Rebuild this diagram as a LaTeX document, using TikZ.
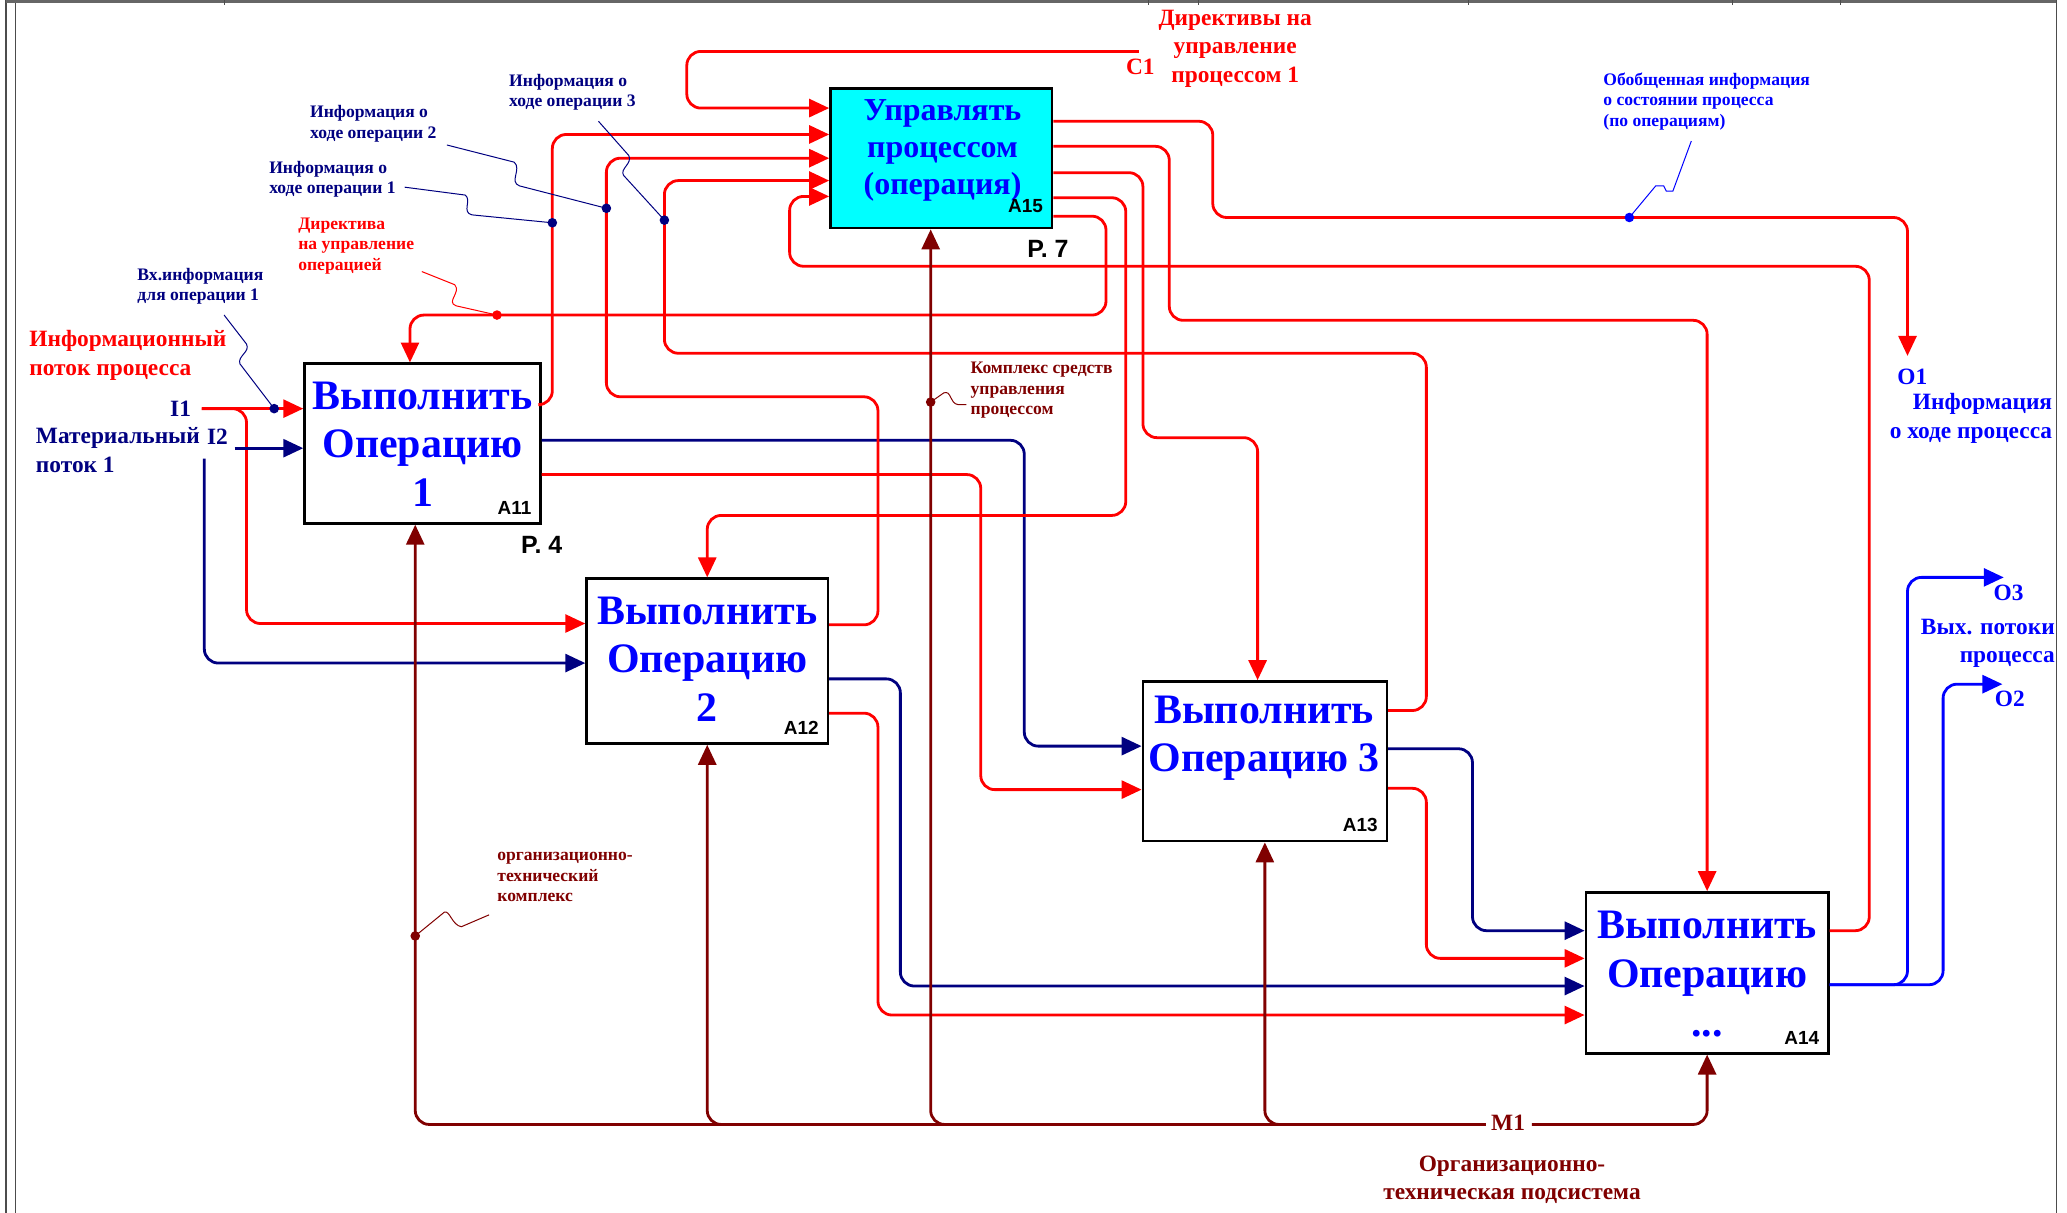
\documentclass[tikz,border=0pt]{standalone}
\usepackage{fontspec}
\setmainfont{Liberation Serif}
\setsansfont{Liberation Sans}
\usetikzlibrary{arrows.meta}

\definecolor{flowred}{RGB}{255,0,0}
\definecolor{flownavy}{RGB}{0,0,128}
\definecolor{flowblue}{RGB}{0,0,255}
\definecolor{flowmaroon}{RGB}{128,0,0}
\definecolor{boxcyan}{RGB}{0,255,255}

\tikzset{
	opbox/.style={draw=black, line width=1.3pt, fill=white, inner sep=0pt},
	boxtext/.style={text=flowblue, align=center, inner sep=0pt, font=\bfseries\fontsize{21}{24.4}\selectfont},
	idlab/.style={anchor=south east, inner sep=5pt, font=\sffamily\bfseries\fontsize{9.5}{10}\selectfont},
	pagelab/.style={anchor=west, inner sep=0pt, font=\sffamily\bfseries\fontsize{12.5}{13}\selectfont},
	note/.style={anchor=west, align=left, inner sep=0pt, font=\bfseries\fontsize{8.8}{10.2}\selectfont},
	tag/.style={inner sep=0pt, font=\bfseries\fontsize{11.7}{14.2}\selectfont},
	flow/.style={line width=1.4pt, rounded corners=7pt, -{Triangle[length=10pt,width=9pt]}},
	leader/.style={line width=0.5pt},
	frame/.style={line width=0.6pt, color=black!70}
}

\begin{document}
\begin{tikzpicture}[x=0.66pt, y=-0.66pt]
		%%%%% START %%%%%
		\useasboundingbox (0,0) rectangle (1568,920);
		
		% sheet frame
		\draw[frame] (4.5,0) -- (4.5,920);
		\draw[frame] (11.5,0) -- (11.5,920);
		\draw[frame] (1560,0) -- (1560,920);
		\draw[line width=1.5pt, color=black!60] (4.5,1) -- (1560,1);
		\foreach \t in {170,871,909,1114,1314,1396}
			\draw[frame] (\t,0) -- (\t,4);
		
		% activity boxes
		\node[opbox, minimum width=118.1pt, minimum height=79.9pt] (a11) at (320.5,336.5) {};
		\node[opbox, minimum width=120.8pt, minimum height=82.5pt] (a12) at (536.5,501.5) {};
		\node[opbox, minimum width=122.1pt, minimum height=79.9pt] (a13) at (959.5,577.5) {};
		\node[opbox, minimum width=121.4pt, minimum height=80.5pt] (a14) at (1295,738) {};
		\node[opbox, fill=boxcyan, minimum width=110.9pt, minimum height=70pt] (a15) at (714,120) {};
		
		\node[boxtext] (a11txt) at (320.5,337) {Выполнить\\Операцию\\1};
		\node[boxtext] (a12txt) at (536.5,500) {Выполнить\\Операцию\\2};
		\node[boxtext] (a13txt) at (959,560) {Выполнить\\Операцию 3};
		\node[boxtext] (a14txt) at (1295,739) {Выполнить\\Операцию\\...};
		\node[boxtext, font=\bfseries\fontsize{16}{18.5}\selectfont] (a15txt) at (715,114) {Управлять\\процессом\\(операция)};
		
		\node[idlab] (a11id) at (a11.south east) {A11};
		\node[idlab] (a12id) at (a12.south east) {A12};
		\node[idlab] (a13id) at (a13.south east) {A13};
		\node[idlab] (a14id) at (a14.south east) {A14};
		\node[idlab, yshift=3pt] (a15id) at (a15.south east) {A15};
		
		\node[pagelab] (p4) at (395,413) {P. 4};
		\node[pagelab] (p7) at (779,189) {P. 7};
		
		% inputs of the process
		\coordinate (i1) at (153,310);
		\coordinate (i2) at (178,340);
		\coordinate (i2b) at (155,348);
		\draw[flow, color=flowred] (i1) -- (a11.west |- i1);
		\draw[flow, color=flowred] (i1) -- (187,310) -- (187,473) -- (a12.west |- 0,473);
		\draw[flow, color=flownavy] (i2) -- (a11.west |- i2);
		\draw[flow, color=flownavy] (i2b) -- (155,503) -- (a12.west |- 0,503);
		
		% outputs of A11
		\draw[flow, color=flowred] (a11.east |- 0,307) -- (419,307) -- (419,102) -- (a15.west |- 0,102);
		\draw[flow, color=flownavy] (a11.east |- 0,334) -- (777,334) -- (777,566) -- (a13.west |- 0,566);
		\draw[flow, color=flowred] (a11.east |- 0,360) -- (744,360) -- (744,599) -- (a13.west |- 0,599);
		
		% outputs of A12
		\draw[flow, color=flowred] (a12.east |- 0,474) -- (666,474) -- (666,301) -- (460,301) -- (460,120) -- (a15.west |- 0,120);
		\draw[flow, color=flownavy] (a12.east |- 0,515) -- (683,515) -- (683,748) -- (a14.west |- 0,748);
		\draw[flow, color=flowred] (a12.east |- 0,541) -- (666,541) -- (666,770) -- (a14.west |- 0,770);
		
		% outputs of A13
		\draw[flow, color=flowred] (a13.east |- 0,539) -- (1082,539) -- (1082,268) -- (504,268) -- (504,137) -- (a15.west |- 0,137);
		\draw[flow, color=flownavy] (a13.east |- 0,568) -- (1117,568) -- (1117,706) -- (a14.west |- 0,706);
		\draw[flow, color=flowred] (a13.east |- 0,598) -- (1082,598) -- (1082,727) -- (a14.west |- 0,727);
		
		% outputs of A14
		\coordinate (o3) at (1520,438);
		\coordinate (o2) at (1519,519);
		\draw[flow, color=flowred] (a14.east |- 0,706) -- (1418,706) -- (1418,202) -- (599,202) -- (599,149) -- (a15.west |- 0,149);
		\draw[flow, color=flowblue] (a14.east |- 0,747) -- (1447,747) -- (1447,438) -- (o3);
		\draw[flow, color=flowblue] (a14.east |- 0,747) -- (1474,747) -- (1474,519) -- (o2);
		
		% control C1 and outputs of A15
		\coordinate (c1) at (864,39);
		\coordinate (o1) at (1447,270);
		\draw[flow, color=flowred] (c1) -- (521,39) -- (521,82) -- (a15.west |- 0,82);
		\draw[flow, color=flowred] (a15.east |- 0,92) -- (920,92) -- (920,165) -- (1447,165) -- (o1);
		\draw[flow, color=flowred] (a15.east |- 0,111) -- (887,111) -- (887,243) -- (a14.north |- 0,243) -- (a14.north);
		\draw[flow, color=flowred] (a15.east |- 0,131) -- (867,131) -- (867,332) -- (954,332) -- (a13.north -| 954,0);
		\draw[flow, color=flowred] (a15.east |- 0,150) -- (854,150) -- (854,391) -- (a12.north |- 0,391) -- (a12.north);
		\draw[flow, color=flowred] (a15.east |- 0,164) -- (839,164) -- (839,239) -- (311,239) -- (a11.north -| 311,0);
		
		% mechanism M1
		\coordinate (m1) at (1127,853);
		\coordinate (m1r) at (1162,853);
		\draw[flow, color=flowmaroon] (m1) -- (315,853) -- (a11.south -| 315,0);
		\draw[flow, color=flowmaroon] (m1) -- (a12.south |- 0,853) -- (a12.south);
		\draw[flow, color=flowmaroon] (m1) -- (706,853) -- (a15.south -| 706,0);
		\draw[flow, color=flowmaroon] (m1) -- (a13.south |- 0,853) -- (a13.south);
		\draw[flow, color=flowmaroon] (m1r) -- (a14.south |- 0,853) -- (a14.south);
		
		% leaders and dots
		\draw[leader, color=flownavy] (170,239) -- (187,261) .. controls (190,267) and (180,270) .. (182,276) -- (208,310);
		\draw[leader, color=flownavy] (307,142) -- (353,148) .. controls (358,152) and (350,161) .. (358,163) -- (419,169);
		\draw[leader, color=flownavy] (339,110) -- (390,123) .. controls (396,128) and (386,138) .. (394,141) -- (460,158);
		\draw[leader, color=flownavy] (454,92) -- (477,118) .. controls (480,124) and (470,128) .. (473,133) -- (504,167);
		\draw[leader, color=flowred] (320,206) -- (345,216) .. controls (350,222) and (338,229) .. (346,232) -- (377,239);
		\draw[leader, color=flowblue] (1283,107) -- (1269,145) -- (1264,145) -- (1262,141) -- (1256,141) -- (1236,165);
		\draw[leader, color=flowmaroon] (706,305) -- (716,298) .. controls (722,296) and (720,306) .. (727,307) -- (733,307);
		\draw[leader, color=flowmaroon] (315,710) -- (337,692) .. controls (341,690) and (343,702) .. (350,703) -- (371,694);
		
		\fill[flownavy] (208,310) circle (2.4pt);
		\fill[flownavy] (419,169) circle (2.4pt);
		\fill[flownavy] (460,158) circle (2.4pt);
		\fill[flownavy] (504,167) circle (2.4pt);
		\fill[flowred] (377,239) circle (2.4pt);
		\fill[flowblue] (1236,165) circle (2.4pt);
		\fill[flowmaroon] (706,305) circle (2.4pt);
		\fill[flowmaroon] (315,710) circle (2.4pt);
		
		% labels
		\node[tag, anchor=west, align=left, text=flowred] (infoflow) at (22,269.5) {Информационный\\поток процесса};
		\node[tag, text=flownavy] (i1lab) at (137,310) {I1};
		\node[tag, text=flownavy] (i2lab) at (165,331) {I2};
		\node[tag, anchor=west, align=left, text=flownavy] (matflow) at (27,341.5) {Материальный\\поток 1};
		\node[note, text=flownavy] (vxinfo) at (104,217) {Вх.информация\\для операции 1};
		\node[note, text=flownavy] (info1) at (204,136) {Информация о\\ходе операции 1};
		\node[note, text=flownavy] (info2) at (235,94) {Информация о\\ходе операции 2};
		\node[note, text=flownavy] (info3) at (386,70) {Информация о\\ходе операции 3};
		\node[note, text=flowred] (direct) at (226,186.5) {Директива\\на управление\\операцией};
		\node[tag, align=center, text=flowred] (dirc1) at (937,37) {Директивы на\\управление\\процессом 1};
		\node[tag, text=flowred] (c1lab) at (865,51) {C1};
		\node[note, text=flowblue] (geninfo) at (1216,77) {Обобщенная информация\\о состоянии процесса\\(по операциям)};
		\node[tag, anchor=west, text=flowblue] (o1lab) at (1439,286) {O1};
		\node[tag, anchor=east, align=right, text=flowblue] (o1txt) at (1557,317.5) {Информация\\о ходе процесса};
		\node[tag, anchor=east, align=right, text=flowblue] (outtxt) at (1559,488) {Вых. потоки\\процесса};
		\node[tag, anchor=west, text=flowblue] (o3lab) at (1512,450) {O3};
		\node[tag, anchor=west, text=flowblue] (o2lab) at (1513,530.5) {O2};
		\node[note, text=flowmaroon] (ctrlkit) at (736,296) {Комплекс средств\\управления\\процессом};
		\node[note, text=flowmaroon] (orgkit) at (377,665.5) {организационно-\\технический\\комплекс};
		\node[tag, text=flowmaroon] (m1lab) at (1144,852) {M1};
		\node[tag, align=center, text=flowmaroon] (orgsys) at (1147,895) {Организационно-\\техническая подсистема};
		
		%%%%% END %%%%%
	\end{tikzpicture}
\end{document}
